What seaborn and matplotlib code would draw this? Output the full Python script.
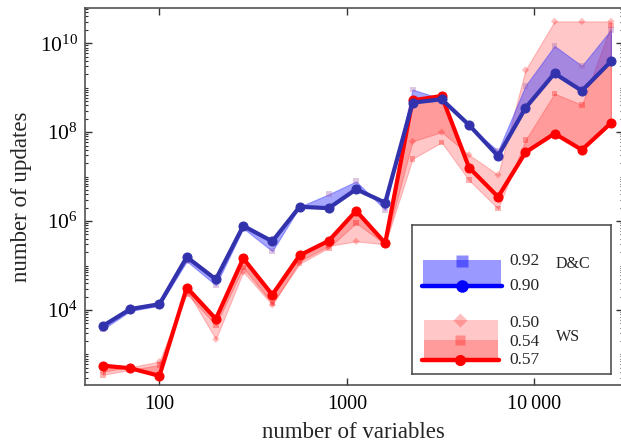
import numpy as np
import pandas as pd
import matplotlib
matplotlib.use('Agg')
import matplotlib.pyplot as plt
import seaborn as sns
from matplotlib.patches import Rectangle
from matplotlib.ticker import (FixedLocator, FixedFormatter, LogLocator, NullLocator,
                               NullFormatter, LogFormatterMathtext)

# Data
n_vars = [50, 70, 100, 140, 200, 280, 400, 560, 800, 1120, 1600,
          2240, 3200, 4480, 6400, 8960, 12800, 17920, 25600]

# D&C (blue)
dc_090 = [4.4e3, 1.05e4, 1.35e4, 1.55e5, 4.9e4, 7.8e5, 3.5e5, 2.1e6, 1.95e6, 5.2e6, 2.6e6,
          4.6e8, 5.5e8, 1.45e8, 2.9e7, 3.5e8, 2.1e9, 8.5e8, 3.9e9]
dc_092 = [3.7e3, 9.5e3, 1.25e4, 1.25e5, 3.6e4, 6.9e5, 2.1e5, 2.1e6, 4.0e6, 7.8e6, 1.8e6,
          9.1e8, 5.6e8, 1.35e8, 3.8e7, 1.1e9, 8.7e9, 3.1e9, 2.0e10]

# WS (red)
ws_057 = [560, 490, 330, 3.2e4, 6.3e3, 1.45e5, 2.2e4, 1.7e5, 3.6e5, 1.7e6, 3.2e5,
          5.2e8, 6.5e8, 1.6e7, 3.5e6, 3.5e7, 9.3e7, 4.0e7, 1.6e8]
ws_054 = [350, 450, 580, 2.3e4, 4.6e3, 9.0e4, 1.4e4, 1.1e5, 2.5e5, 9.0e5, 3.0e5,
          2.5e7, 5.9e7, 8.3e6, 1.9e6, 6.6e7, 7.4e8, 4.1e8, 2.5e10]
ws_050 = [410, 520, 690, 2.8e4, 2.2e3, 7.2e4, 1.3e4, 1.25e5, 2.75e5, 3.5e5, 3.0e5,
          6.2e7, 1.0e8, 3.1e7, 1.1e7, 2.5e9, 3.1e10, 3.1e10, 3.1e10]

xticks = [100, 1000, 10000]
xticklabels = ['100', '1000', '10\u2009000']
yticks = [1e4, 1e6, 1e8, 1e10]

df = pd.DataFrame({'n': n_vars, 'dc_090': dc_090, 'dc_092': dc_092,
                   'ws_057': ws_057, 'ws_054': ws_054, 'ws_050': ws_050})

sns.set_style('ticks')
plt.rcParams['font.family'] = ['Liberation Serif', 'DejaVu Serif']
plt.rcParams['mathtext.fontset'] = 'stix'

RED = '#ff0000'
BLUE_LINE = '#3232ad'
BLUE = '#3a3aff'

fig = plt.figure(figsize=(6.21, 4.45), dpi=100)
# axes runs a little past the right edge of the image, like the original
ax = fig.add_axes([85 / 621, 1 - 385 / 445, 537.5 / 621, 377 / 445])

# WS bands
ax.fill_between(df['n'], df['ws_057'], df['ws_050'], color=RED, alpha=0.22, lw=0.8)
ax.fill_between(df['n'], df['ws_057'], df['ws_054'], color=RED, alpha=0.22, lw=0.8)
sns.scatterplot(data=df, x='n', y='ws_050', marker='D', s=14, color=RED, alpha=0.25,
                edgecolor='none', ax=ax)
sns.scatterplot(data=df, x='n', y='ws_054', marker='s', s=16, color=RED, alpha=0.3,
                edgecolor='none', ax=ax)
sns.lineplot(data=df, x='n', y='ws_057', color=RED, lw=3.0, marker='o', ms=6.5,
             mec=RED, ax=ax)

# D&C band
ax.fill_between(df['n'], df['dc_090'], df['dc_092'], color=BLUE, alpha=0.45, lw=0.8)
sns.scatterplot(data=df, x='n', y='dc_092', marker='s', s=18, color='#a060b0', alpha=0.35,
                edgecolor='none', ax=ax)
sns.lineplot(data=df, x='n', y='dc_090', color=BLUE_LINE, lw=3.0, marker='o', ms=6.5,
             mec=BLUE_LINE, ax=ax)

ax.set_xscale('log')
ax.set_yscale('log')
ax.set_xlim(40.1, 29500)
ax.set_ylim(205.6, 6.2e10)

ax.xaxis.set_major_locator(FixedLocator(xticks))
ax.xaxis.set_major_formatter(FixedFormatter(xticklabels))
ax.xaxis.set_minor_locator(NullLocator())
ax.yaxis.set_major_locator(FixedLocator(yticks))
ax.yaxis.set_major_formatter(LogFormatterMathtext())
ax.yaxis.set_minor_locator(LogLocator(base=10, subs=np.arange(1, 10), numticks=30))
ax.yaxis.set_minor_formatter(NullFormatter())

ax.tick_params(which='both', direction='in', top=True, right=True, colors='#333333',
               labelcolor='black')
ax.tick_params(which='major', length=5, width=1, labelsize=14.5)
ax.tick_params(axis='y', which='major', labelsize=15.5, pad=5)
ax.tick_params(axis='x', which='major', pad=7)
ax.tick_params(which='minor', length=2.5, width=0.8)
for sp in ax.spines.values():
    sp.set_color('#444444')
    sp.set_linewidth(1.1)

ax.set_xlabel('number of variables', fontsize=16.5, labelpad=6)
ax.set_ylabel('number of updates', fontsize=16.5, labelpad=6)

# Custom legend drawn in pixel-like coords
lg = ax.inset_axes([(412 - 85) / 537.5, (385 - 374) / 377, 199 / 537.5, 149 / 377])
lg.set_xlim(412, 611)
lg.set_ylim(374, 225)
lg.set_xticks([])
lg.set_yticks([])
lg.yaxis.set_minor_locator(NullLocator())
lg.xaxis.set_minor_locator(NullLocator())
for sp in lg.spines.values():
    sp.set_color('#444444')
    sp.set_linewidth(1.1)
lg.set_facecolor('white')

lg.add_patch(Rectangle((423, 260), 78, 25.7, color='#0000ff', alpha=0.4, lw=0))
lg.plot([462], [261], marker='s', ms=8, color='#0000ff', alpha=0.45, mec='none')
lg.plot([422, 502], [285.7, 285.7], color='#0000ff', lw=3.2)
lg.plot([462], [285.7], marker='o', ms=8, color='#0000ff')

lg.add_patch(Rectangle((424, 320), 74, 40, color=RED, alpha=0.22, lw=0))
lg.add_patch(Rectangle((424, 340), 74, 20, color=RED, alpha=0.22, lw=0))
lg.plot([460], [320], marker='D', ms=7, color=RED, alpha=0.25, mec='none')
lg.plot([460], [340], marker='s', ms=7, color=RED, alpha=0.3, mec='none')
lg.plot([422, 499], [360, 360], color=RED, lw=3.2)
lg.plot([460], [360], marker='o', ms=7, color=RED)

for lab, yy in [('0.92', 261), ('0.90', 286), ('0.50', 323), ('0.54', 342), ('0.57', 360)]:
    lg.text(509, yy, lab, fontsize=12.5, va='center', ha='left')
lg.text(556, 264, 'D&C', fontsize=11.5, va='center', ha='left')
lg.text(556, 337, 'WS', fontsize=11.5, va='center', ha='left')

plt.savefig('out.png', dpi=100)
